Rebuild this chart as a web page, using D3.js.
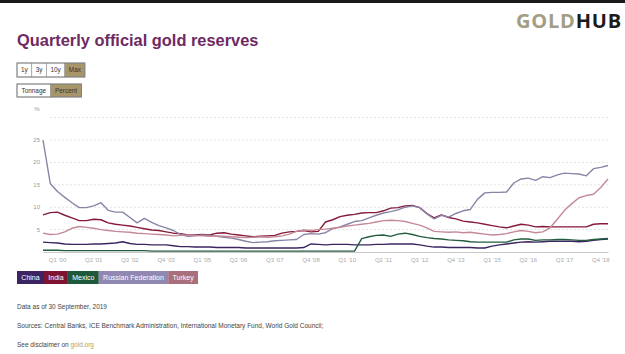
<!DOCTYPE html>
<html>
<head>
<meta charset="utf-8">
<script src="https://cdn.jsdelivr.net/npm/d3@7"></script>
<style>
  body { margin: 0; background: #fff; }
  svg { display: block; font-family: "Liberation Sans", Arial, sans-serif; }
</style>
</head>
<body>
<div id="chart"></div>
<script>
'use strict';

// categories: Q1 '00 .. Q3 '19
const quarters = [];
for (let yr = 2000; yr <= 2019; yr++) {
    for (let q = 1; q <= 4; q++) {
        if (yr === 2019 && q > 3) break;
        quarters.push(`Q${q} '${String(yr).slice(2)}`);
    }
}

const tickLabels = ["Q1 '00", "Q2 '01", "Q3 '02", "Q4 '03", "Q1 '05", "Q2 '06", "Q3 '07", "Q4 '08",
    "Q1 '10", "Q2 '11", "Q3 '12", "Q4 '13", "Q1 '15", "Q2 '16", "Q3 '17", "Q4 '18"];
const yLabels = [5, 10, 15, 20, 25];
const gridValues = [5, 10, 15, 20, 25, 30];

// gold as % of total reserves
const china = [2.2, 2.1, 2.0, 1.8, 1.7, 1.7, 1.7, 1.8, 1.8, 1.9,
    2.0, 2.3, 1.9, 1.7, 1.7, 1.6, 1.6, 1.6, 1.4, 1.2,
    1.2, 1.1, 1.1, 1.1, 1.0, 1.0, 1.0, 1.0, 0.9, 0.9,
    0.9, 0.9, 0.9, 0.9, 0.9, 0.9, 1.0, 1.8, 1.7, 1.6,
    1.7, 1.7, 1.7, 1.6, 1.6, 1.6, 1.7, 1.7, 1.8, 1.8,
    1.8, 1.8, 1.6, 1.3, 1.1, 1.1, 1.0, 1.0, 1.0, 1.0,
    0.9, 0.9, 1.3, 1.6, 1.8, 2.0, 2.2, 2.3, 2.2, 2.3,
    2.4, 2.4, 2.4, 2.4, 2.3, 2.4, 2.6, 2.8, 2.9];
const india = [8.3, 8.8, 8.9, 8.2, 7.6, 7.0, 7.0, 7.3, 7.2, 6.5,
    6.2, 6.0, 5.8, 5.5, 5.2, 4.9, 4.8, 4.5, 4.2, 4.1,
    3.8, 3.8, 3.9, 3.8, 4.2, 4.3, 4.0, 3.8, 3.6, 3.4,
    3.5, 3.6, 3.7, 4.2, 4.5, 4.6, 4.8, 4.5, 4.6, 6.7,
    7.2, 7.9, 8.2, 8.4, 8.7, 8.8, 8.8, 9.2, 9.8, 9.9,
    10.3, 10.4, 9.9, 8.6, 7.6, 8.3, 7.7, 7.4, 6.9, 6.7,
    6.5, 6.2, 5.9, 5.6, 5.4, 5.8, 6.2, 6.0, 5.6, 5.7,
    5.6, 5.6, 5.6, 5.6, 5.6, 5.6, 6.2, 6.3, 6.3];
const mexico = [0.4, 0.4, 0.4, 0.3, 0.3, 0.3, 0.3, 0.3, 0.3, 0.3,
    0.3, 0.3, 0.3, 0.3, 0.3, 0.2, 0.2, 0.2, 0.2, 0.2,
    0.2, 0.2, 0.2, 0.2, 0.2, 0.2, 0.2, 0.2, 0.2, 0.2,
    0.2, 0.2, 0.2, 0.2, 0.2, 0.2, 0.2, 0.2, 0.2, 0.2,
    0.2, 0.2, 0.2, 0.2, 3.0, 3.4, 3.7, 3.8, 3.5, 4.0,
    4.2, 3.9, 3.5, 3.2, 3.0, 2.9, 2.7, 2.6, 2.5, 2.3,
    2.2, 2.2, 2.2, 2.2, 2.2, 2.7, 2.9, 2.9, 2.6, 2.7,
    2.7, 2.8, 2.8, 2.7, 2.6, 2.6, 2.8, 2.9, 3.0];
const russia = [25.0, 15.3, 13.5, 12.2, 11.0, 9.9, 9.9, 10.3, 11.0, 9.3,
    8.9, 8.9, 7.7, 6.5, 7.5, 6.6, 5.9, 5.4, 4.8, 3.9,
    3.5, 3.6, 3.8, 3.7, 3.5, 3.3, 3.1, 2.8, 2.4, 2.1,
    2.2, 2.3, 2.5, 2.6, 2.7, 2.8, 3.9, 4.1, 4.0, 4.3,
    5.2, 5.6, 6.2, 6.8, 7.0, 7.6, 8.2, 8.7, 9.0, 9.4,
    10.0, 10.3, 9.9, 8.5, 7.4, 8.2, 7.8, 8.6, 9.2, 9.5,
    11.8, 13.2, 13.3, 13.3, 13.4, 15.4, 16.3, 16.5, 16.0, 16.8,
    16.6, 17.2, 17.6, 17.5, 17.4, 17.0, 18.6, 18.9, 19.3];
const turkey = [4.2, 3.9, 4.0, 4.5, 5.3, 5.7, 5.5, 5.3, 5.0, 4.8,
    4.6, 4.5, 4.4, 4.2, 4.1, 4.0, 3.9, 3.8, 3.6, 3.7,
    3.8, 3.7, 3.6, 3.5, 3.6, 3.5, 3.4, 3.3, 3.2, 3.3,
    3.4, 3.3, 3.4, 3.6, 4.0, 4.6, 4.9, 4.8, 5.0, 5.1,
    5.3, 5.5, 5.8, 6.0, 6.2, 6.4, 6.7, 7.0, 7.1, 7.0,
    6.8, 6.4, 6.0, 5.4, 4.6, 4.5, 4.4, 4.5, 4.3, 4.4,
    4.2, 4.0, 3.8, 3.9, 4.1, 4.5, 4.8, 4.6, 4.3, 4.5,
    5.4, 7.3, 9.3, 10.8, 12.1, 12.6, 12.9, 14.4, 16.3];

const seriesNames = ['China', 'India', 'Mexico', 'Russian Federation', 'Turkey'];
const seriesValues = [china, india, mexico, russia, turkey];
const lineColors = ['#3b2660', '#861a3c', '#245c40', '#8a84a6', '#c48996'];
const legendColors = ['#3c2462', '#7e1432', '#1e593b', '#9088b2', '#a96f7c'];

const width = 625, height = 354;

const svg = d3.select('#chart').append('svg')
    .attr('width', width)
    .attr('height', height);

svg.append('rect').attr('width', width).attr('height', height).attr('fill', '#fff');

// top bar
svg.append('rect').attr('x', 0).attr('y', 0).attr('width', width).attr('height', 3).attr('fill', '#1a1a1a');

// logo
let logo = svg.append('text')
    .attr('x', 622).attr('y', 28)
    .attr('text-anchor', 'end')
    .attr('font-family', '"Open Sans", "Liberation Sans", sans-serif')
    .attr('font-weight', 700)
    .attr('font-size', 20)
    .attr('letter-spacing', 0.8);
logo.append('tspan').attr('fill', '#a39d83').text('GOLD');
logo.append('tspan').attr('fill', '#1c1c1c').text('HUB');

// title
svg.append('text')
    .attr('x', 17).attr('y', 46)
    .attr('font-size', 16.4)
    .attr('font-weight', 700)
    .attr('fill', '#6e2a63')
    .text('Quarterly official gold reserves');

// buttons
function buttonGroup(items, x0, y0, h, activeIdx, pad) {
    let g = svg.append('g').attr('transform', `translate(${x0},${y0})`);
    let x = 0;
    items.forEach((d, i) => {
        let t = g.append('text')
            .attr('y', h / 2 + 2.3)
            .attr('font-size', 6.4)
            .attr('fill', '#333')
            .text(d);
        let w = t.node().getComputedTextLength() + pad;
        g.insert('rect', 'text')
            .attr('x', x).attr('y', 0)
            .attr('width', w).attr('height', h)
            .attr('fill', i === activeIdx ? '#a8966a' : '#fff')
            .attr('stroke', '#999')
            .attr('stroke-width', 0.7);
        t.attr('x', x + w / 2).attr('text-anchor', 'middle');
        x += w;
    });
    g.append('rect').attr('x', 0).attr('y', 0).attr('width', x).attr('height', h)
        .attr('fill', 'none').attr('stroke', '#777').attr('stroke-width', 0.8);
}
buttonGroup(['1y', '3y', '10y', 'Max'], 17, 63, 14, 3, 8);
buttonGroup(['Tonnage', 'Percent'], 17, 84, 13, 1, 9);

// scales
const x = d3.scalePoint().domain(quarters).range([43, 608]);
const y = d3.scaleLinear().domain([0, 25]).range([252, 140]);

// gridlines
svg.append('g').selectAll('line').data(gridValues).join('line')
    .attr('x1', 50).attr('x2', 610)
    .attr('y1', d => y(d)).attr('y2', d => y(d))
    .attr('stroke', '#dcdcdc')
    .attr('stroke-width', 0.8)
    .attr('stroke-dasharray', '2,2');

// y labels
svg.append('g').selectAll('text').data(yLabels).join('text')
    .attr('x', 40).attr('y', d => y(d) + 2)
    .attr('text-anchor', 'end')
    .attr('font-size', 6)
    .attr('fill', '#999')
    .text(d => d);
svg.append('text').attr('x', 37).attr('y', 111).attr('text-anchor', 'middle')
    .attr('font-size', 6).attr('fill', '#999').text('%');

// x axis
let xAxis = svg.append('g')
    .attr('transform', `translate(0,${y(0)})`)
    .call(d3.axisBottom(x).tickValues(tickLabels).tickSize(0).tickPadding(6));
xAxis.select('.domain').attr('stroke', '#c8c8c8');
xAxis.selectAll('text')
    .attr('dx', 14)
    .attr('font-size', 6)
    .attr('font-family', '"Liberation Sans", Arial, sans-serif')
    .attr('fill', '#aaa');

// lines
const line = d3.line()
    .x((d, i) => x(quarters[i]))
    .y(d => y(d));

svg.append('g').selectAll('path').data(seriesValues).join('path')
    .attr('d', d => line(d))
    .attr('fill', 'none')
    .attr('stroke', (d, i) => lineColors[i])
    .attr('stroke-width', 1.4)
    .attr('stroke-linejoin', 'round');

// legend
let legend = svg.append('g').attr('transform', 'translate(17,271)');
let lx = 0;
seriesNames.forEach((name, i) => {
    let t = legend.append('text')
        .attr('y', 9.3)
        .attr('font-size', 7)
        .attr('fill', '#fff')
        .text(name);
    let w = t.node().getComputedTextLength() + 8.7;
    legend.insert('rect', 'text')
        .attr('x', lx).attr('y', 0)
        .attr('width', w).attr('height', 13)
        .attr('fill', legendColors[i]);
    t.attr('x', lx + w / 2).attr('text-anchor', 'middle');
    lx += w;
});

// footer
const footer = [
    ['Data as of 30 September, 2019', 309],
    ['Sources: Central Banks, ICE Benchmark Administration, International Monetary Fund, World Gold Council;', 328]
];
svg.append('g').selectAll('text').data(footer).join('text')
    .attr('x', 17).attr('y', d => d[1])
    .attr('font-size', 6.5)
    .attr('fill', '#444')
    .text(d => d[0]);
let disc = svg.append('text').attr('x', 17).attr('y', 347)
    .attr('font-size', 6.5).attr('fill', '#444');
disc.append('tspan').text('See disclaimer on ');
disc.append('tspan').attr('fill', '#b5a468').text('gold.org');
</script>
</body>
</html>
